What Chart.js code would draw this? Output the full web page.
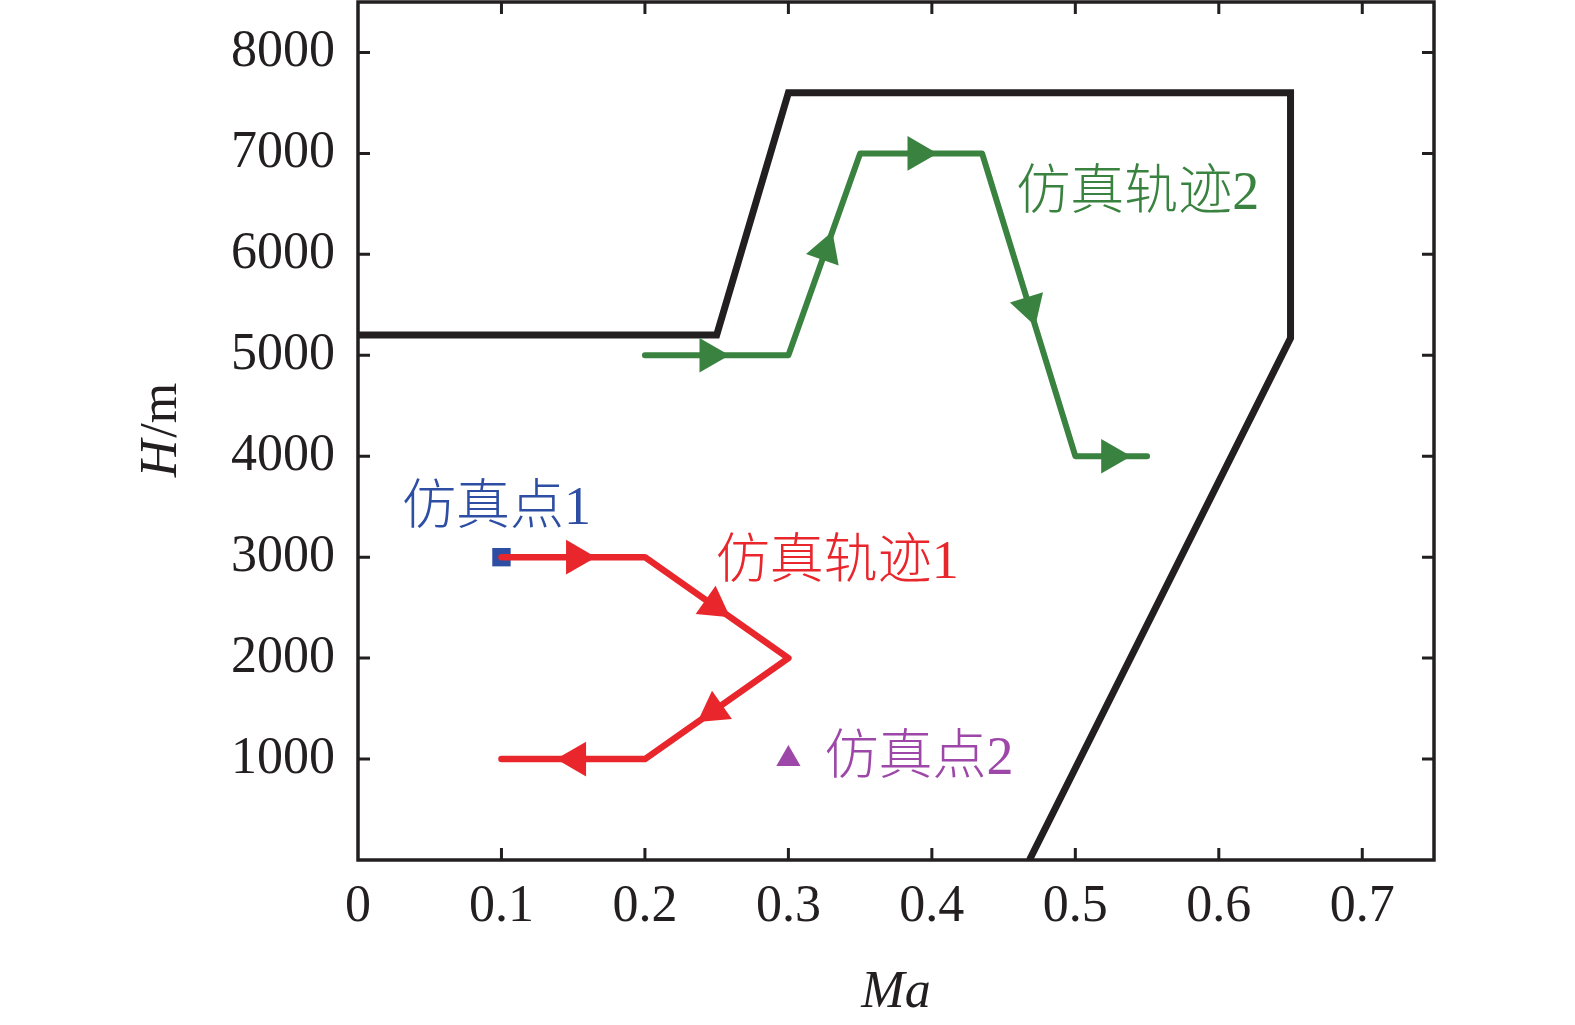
<!DOCTYPE html>
<html>
<head>
<meta charset="utf-8">
<script src="https://cdn.jsdelivr.net/npm/chart.js@4.4.0/dist/chart.umd.min.js"></script>
<style>
  html, body { margin: 0; padding: 0; background: #fff; }
  canvas { display: block; }
</style>
</head>
<body>
<canvas id="flight" width="1575" height="1025"></canvas>
<script>
// envelope boundary (Ma, H)
var boundaryMa = [0, 0.25, 0.30, 0.65, 0.65, 0.468];
var boundaryH = [5200, 5200, 7600, 7600, 5170, 0];

// simulation trajectory 1 (red)
var track1Ma = [0.1, 0.2, 0.3, 0.2, 0.1];
var track1H = [3000, 3000, 2000, 1000, 1000];
var arrows1Ma = [0.152, 0.248, 0.248, 0.152];
var arrows1H = [3000, 2520, 1480, 1000];

// simulation trajectory 2 (green)
var track2Ma = [0.2, 0.3, 0.35, 0.435, 0.5, 0.55];
var track2H = [5000, 5000, 7000, 7000, 4000, 4000];
var arrows2Ma = [0.245, 0.326, 0.39, 0.468, 0.525];
var arrows2H = [5000, 6040, 7000, 5480, 4000];

// simulation points
var point1Ma = [0.1];
var point1H = [3000];
var point2Ma = [0.3];
var point2H = [1000];

// ticks
var xTickValues = [0, 0.1, 0.2, 0.3, 0.4, 0.5, 0.6, 0.7];
var yTickValues = [1000, 2000, 3000, 4000, 5000, 6000, 7000, 8000];

var black = '#231f20';
var red = '#e8262b';
var green = '#3a8240';
var blue = '#2d4ea2';
var purple = '#9d47a9';

function pts(xs, ys) {
  return xs.map(function (x, i) { return { x: x, y: ys[i] }; });
}

// rotate an arrow so it follows the segment of the path it sits on
function arrowRotation(pathXs, pathYs) {
  return function (ctx) {
    var chart = ctx.chart, sx = chart.scales.x, sy = chart.scales.y;
    var p = ctx.raw;
    if (!p) return 0;
    var px = sx.getPixelForValue(p.x), py = sy.getPixelForValue(p.y);
    var best = 0, bestD = Infinity;
    for (var i = 0; i < pathXs.length - 1; i++) {
      var ax = sx.getPixelForValue(pathXs[i]), ay = sy.getPixelForValue(pathYs[i]);
      var bx = sx.getPixelForValue(pathXs[i + 1]), by = sy.getPixelForValue(pathYs[i + 1]);
      var dx = bx - ax, dy = by - ay;
      var t = ((px - ax) * dx + (py - ay) * dy) / (dx * dx + dy * dy);
      t = Math.max(0, Math.min(1, t));
      var qx = ax + t * dx - px, qy = ay + t * dy - py;
      var d = qx * qx + qy * qy;
      if (d < bestD) { bestD = d; best = i; }
    }
    var ddx = sx.getPixelForValue(pathXs[best + 1]) - sx.getPixelForValue(pathXs[best]);
    var ddy = sy.getPixelForValue(pathYs[best + 1]) - sy.getPixelForValue(pathYs[best]);
    return Math.atan2(ddx, -ddy) * 180 / Math.PI;
  };
}

var serif = '"Liberation Serif", "Noto Sans CJK SC", serif';

var noteTexts = ['仿真点1', '仿真轨迹1', '仿真点2', '仿真轨迹2'];
var noteMa = [0.0965, 0.334, 0.391, 0.5435];
var noteH = [3470, 2930, 990, 6590];
var noteColors = [blue, red, purple, green];

// frame, inward ticks, notes, y title
var framePlugin = {
  id: 'frame',
  afterDatasetsDraw: function (chart) {
    var c = chart.ctx, a = chart.chartArea;
    var sx = chart.scales.x, sy = chart.scales.y;
    c.save();
    c.strokeStyle = black;
    c.lineWidth = 3.5;
    c.lineJoin = 'miter';
    c.strokeRect(a.left, a.top, a.right - a.left, a.bottom - a.top);
    var tl = 12;
    c.beginPath();
    xTickValues.forEach(function (v) {
      var x = sx.getPixelForValue(v);
      if (x <= a.left + 1) return;
      c.moveTo(x, a.bottom); c.lineTo(x, a.bottom - tl);
      c.moveTo(x, a.top); c.lineTo(x, a.top + tl);
    });
    yTickValues.forEach(function (v) {
      var y = sy.getPixelForValue(v);
      c.moveTo(a.left, y); c.lineTo(a.left + tl, y);
      c.moveTo(a.right, y); c.lineTo(a.right - tl, y);
    });
    c.lineWidth = 3;
    c.stroke();

    c.font = '300 54px ' + serif;
    c.textAlign = 'center';
    c.textBaseline = 'middle';
    noteTexts.forEach(function (t, i) {
      c.fillStyle = noteColors[i];
      c.fillText(t, sx.getPixelForValue(noteMa[i]), sy.getPixelForValue(noteH[i]));
    });

    // y axis title: italic H, upright /m
    c.translate(162, (a.top + a.bottom) / 2);
    c.rotate(-Math.PI / 2);
    c.fillStyle = black;
    c.textAlign = 'left';
    c.font = 'italic 52px "Liberation Serif", serif';
    var w1 = c.measureText('H').width;
    c.font = '52px "Liberation Serif", serif';
    var w2 = c.measureText('/m').width;
    var x0 = -(w1 + w2) / 2;
    c.font = 'italic 52px "Liberation Serif", serif';
    c.fillText('H', x0, 0);
    c.font = '52px "Liberation Serif", serif';
    c.fillText('/m', x0 + w1 + 2, 0);
    c.restore();
  }
};

var tickFont = { family: '"Liberation Serif", serif', size: 52 };

new Chart(document.getElementById('flight').getContext('2d'), {
  type: 'scatter',
  data: {
    datasets: [
      {
        label: 'boundary',
        data: pts(boundaryMa, boundaryH),
        showLine: true,
        borderColor: black,
        borderWidth: 7,
        borderJoinStyle: 'miter',
        pointRadius: 0,
        order: 5
      },
      {
        label: 'track2',
        data: pts(track2Ma, track2H),
        showLine: true,
        borderColor: green,
        borderWidth: 6,
        borderCapStyle: 'round',
        borderJoinStyle: 'round',
        pointRadius: 0,
        order: 4
      },
      {
        label: 'arrows2',
        data: pts(arrows2Ma, arrows2H),
        pointStyle: 'triangle',
        pointRadius: 20,
        pointBackgroundColor: green,
        pointBorderWidth: 0,
        pointRotation: arrowRotation(track2Ma, track2H),
        order: 3
      },
      {
        label: 'point1',
        data: pts(point1Ma, point1H),
        pointStyle: 'rect',
        pointRadius: 13,
        pointBackgroundColor: blue,
        pointBorderWidth: 0,
        order: 6
      },
      {
        label: 'track1',
        data: pts(track1Ma, track1H),
        showLine: true,
        borderColor: red,
        borderWidth: 6.5,
        borderCapStyle: 'round',
        borderJoinStyle: 'round',
        pointRadius: 0,
        order: 2
      },
      {
        label: 'arrows1',
        data: pts(arrows1Ma, arrows1H),
        pointStyle: 'triangle',
        pointRadius: 20,
        pointBackgroundColor: red,
        pointBorderWidth: 0,
        pointRotation: arrowRotation(track1Ma, track1H),
        order: 1
      },
      {
        label: 'point2',
        data: pts(point2Ma, point2H),
        pointStyle: 'triangle',
        pointRadius: 14,
        pointBackgroundColor: purple,
        pointBorderWidth: 0,
        order: 0
      }
    ]
  },
  options: {
    responsive: false,
    devicePixelRatio: 1,
    animation: false,
    layout: { autoPadding: false, padding: { left: 0, right: 141, top: 2, bottom: 0 } },
    plugins: { legend: { display: false }, tooltip: { enabled: false } },
    scales: {
      x: {
        type: 'linear',
        min: 0,
        max: 0.75,
        afterBuildTicks: function (s) { s.ticks = xTickValues.map(function (v) { return { value: v }; }); },
        afterFit: function (s) { s.height = 165; s.paddingLeft = 0; s.paddingRight = 0; },
        grid: { display: false, drawTicks: false },
        border: { display: false },
        ticks: {
          color: black,
          font: tickFont,
          padding: 16,
          maxRotation: 0,
          callback: function (v) { return v === 0 ? '0' : v.toFixed(1); }
        },
        title: {
          display: true,
          text: 'Ma',
          color: black,
          font: { family: '"Liberation Serif", serif', size: 52, style: 'italic' },
          padding: { top: 0, bottom: 0 }
        }
      },
      y: {
        type: 'linear',
        min: 0,
        max: 8500,
        afterBuildTicks: function (s) { s.ticks = yTickValues.map(function (v) { return { value: v }; }); },
        afterFit: function (s) { s.width = 358; s.paddingTop = 0; s.paddingBottom = 0; },
        grid: { display: false, drawTicks: false },
        border: { display: false },
        ticks: {
          color: black,
          font: tickFont,
          padding: 23,
          callback: function (v) { return String(v); }
        }
      }
    }
  },
  plugins: [framePlugin]
});
</script>
</body>
</html>
